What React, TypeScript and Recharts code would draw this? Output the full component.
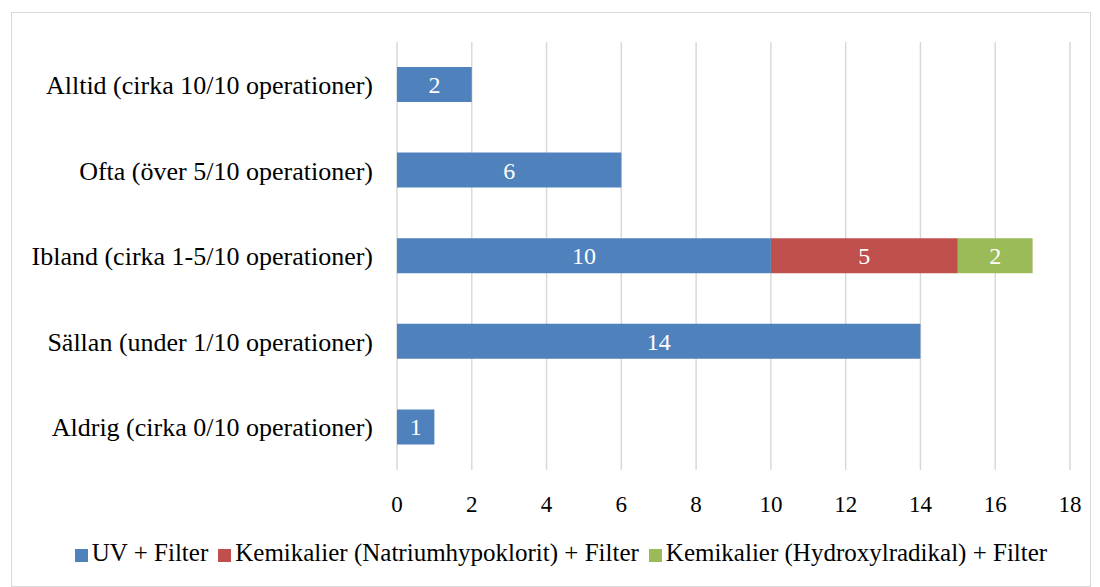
import React from 'react'
import {
  BarChart,
  Bar,
  XAxis,
  YAxis,
  CartesianGrid,
  Legend,
  LabelList,
} from 'recharts'

const categories = [
  'Alltid (cirka 10/10 operationer)',
  'Ofta (över 5/10 operationer)',
  'Ibland (cirka 1-5/10 operationer)',
  'Sällan (under 1/10 operationer)',
  'Aldrig (cirka 0/10 operationer)',
]
const uvFilter = [2, 6, 10, 14, 1]
const natrium = [0, 0, 5, 0, 0]
const hydroxyl = [0, 0, 2, 0, 0]
const xTicks = [0, 2, 4, 6, 8, 10, 12, 14, 16, 18]
const seriesOrder = ['uv', 'natrium', 'hydroxyl']

const data = categories.map((name, i) => ({
  name,
  uv: uvFilter[i],
  natrium: natrium[i],
  hydroxyl: hydroxyl[i],
}))

const font = '"Liberation Serif", serif'
const hideZero = (v: any) => (v ? v : '')

export default function App() {
  return (
    <div style={{ position: 'fixed', left: 0, top: 0, width: 1100, height: 587, background: '#fff', fontFamily: font }}>
      <div
        style={{
          position: 'absolute',
          left: 11,
          top: 12,
          width: 1078,
          height: 573,
          border: '1px solid #d9d9d9',
          pointerEvents: 'none',
        }}
      />
      <BarChart
        width={1100}
        height={587}
        data={data}
        layout="vertical"
        margin={{ top: 42, right: 30, left: 0, bottom: 8 }}
        barSize={35}
      >
        <CartesianGrid horizontal={false} stroke="#d9d9d9" strokeWidth={1.5} />
        <XAxis
          type="number"
          domain={[0, 18]}
          ticks={xTicks}
          axisLine={false}
          tickLine={false}
          tickMargin={20}
          height={69}
          tick={{ fill: '#000', fontSize: 23, fontFamily: font }}
        />
        <YAxis
          type="category"
          dataKey="name"
          width={397}
          axisLine={false}
          tickLine={false}
          tickMargin={18}
          tick={{ fill: '#000', fontSize: 26, fontFamily: font }}
        />
        <Legend
          verticalAlign="bottom"
          height={40}
          iconType="square"
          iconSize={13}
          itemSorter={(item: any) => seriesOrder.indexOf(item.dataKey)}
          wrapperStyle={{ fontSize: 25, fontFamily: font, color: '#000', left: 31 }}
          formatter={(value) => <span style={{ color: '#000' }}>{value}</span>}
        />
        <Bar dataKey="uv" name="UV + Filter" stackId="a" fill="#4f81bd" isAnimationActive={false}>
          <LabelList dataKey="uv" position="center" fill="#fff" fontSize={24} fontFamily={font} formatter={hideZero} />
        </Bar>
        <Bar dataKey="natrium" name="Kemikalier (Natriumhypoklorit) + Filter" stackId="a" fill="#c0504d" isAnimationActive={false}>
          <LabelList dataKey="natrium" position="center" fill="#fff" fontSize={24} fontFamily={font} formatter={hideZero} />
        </Bar>
        <Bar dataKey="hydroxyl" name="Kemikalier (Hydroxylradikal) + Filter" stackId="a" fill="#9bbb59" isAnimationActive={false}>
          <LabelList dataKey="hydroxyl" position="center" fill="#fff" fontSize={24} fontFamily={font} formatter={hideZero} />
        </Bar>
      </BarChart>
    </div>
  )
}
